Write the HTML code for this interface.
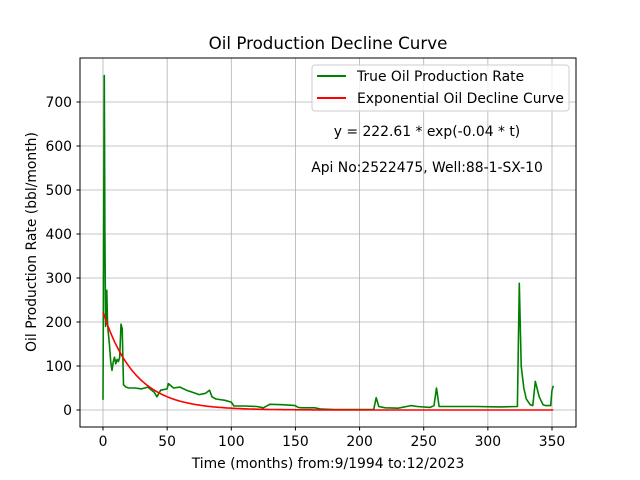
<!DOCTYPE html>
<html><head><meta charset="utf-8"><style>
html,body{margin:0;padding:0;background:#fff;}
svg{display:block;font-family:"DejaVu Sans","Liberation Sans",sans-serif;}
</style></head><body>
<svg id="chart" width="640" height="480" viewBox="0 0 640 480" xmlns="http://www.w3.org/2000/svg">
<rect width="640" height="480" fill="#fff"/>
<g id="grid"></g>
<g id="ticks"></g>
<g id="series"></g>
<rect x="80" y="58" width="496" height="369" fill="none" stroke="#000" stroke-width="1"/>
<text x="328" y="49" font-size="16.7" text-anchor="middle">Oil Production Decline Curve</text>
<text x="328" y="468" font-size="13.9" text-anchor="middle">Time (months) from:9/1994 to:12/2023</text>
<text transform="translate(36,242) rotate(-90)" font-size="13.9" text-anchor="middle">Oil Production Rate (bbl/month)</text>
<g>
<rect x="312" y="65" width="257" height="46" rx="3" fill="#fff" fill-opacity="0.8" stroke="#ccc"/>
<line x1="317" y1="76" x2="346" y2="76" stroke="green" stroke-width="2"/>
<text x="357" y="81" font-size="13.9">True Oil Production Rate</text>
<line x1="317" y1="98" x2="346" y2="98" stroke="red" stroke-width="2"/>
<text x="357" y="103" font-size="13.9">Exponential Oil Decline Curve</text>
</g>
<text x="427" y="136" font-size="13.9" text-anchor="middle">y = 222.61 * exp(-0.04 * t)</text>
<text x="427" y="172" font-size="13.9" text-anchor="middle">Api No:2522475, Well:88-1-SX-10</text>
</svg>
<script>
const months = [0,1,1.5,2,3,3.5,4,5,6,7,8,9,10,11,12,13,14,15,16,18,20,25,30,35,38,40,42,45,50,51,55,60,65,70,75,80,83,85,88,95,100,102,110,120,125,130,140,150,152,155,165,170,180,200,211,213,215,220,230,240,245,255,258,260,262,270,290,310,323,324.5,326,328,330,333,335,337,340,343,345,349,350,351];
const rates  = [23,760,400,190,272,200,180,150,110,90,110,120,105,115,110,120,195,185,57,52,50,50,48,52,45,40,30,45,48,60,50,52,45,40,35,38,45,30,25,22,18,9,9,8,5,13,12,10,6,5,5,2,1,1,1,28,8,5,4,10,8,6,10,50,8,8,8,7,8,288,100,50,25,12,10,65,30,12,10,10,45,55];
const decayA = 222.61, decayK = 0.04;
const xTicks = [0,50,100,150,200,250,300,350];
const yTicks = [0,100,200,300,400,500,600,700];
const X = t => 103 + t * (449 / 350);
const Y = v => 410 - v * 0.44;
const NS = "http://www.w3.org/2000/svg";
const grid = document.getElementById('grid'), ticks = document.getElementById('ticks'), series = document.getElementById('series');
function mk(tag, attrs, parent){const e=document.createElementNS(NS,tag);for(const k in attrs)e.setAttribute(k,attrs[k]);parent.appendChild(e);return e;}
xTicks.forEach(t=>{
  const g=mk('line',{x1:X(t),x2:X(t),y1:58,y2:427,stroke:'#b0b0b0','stroke-width':0.8},grid);
  
  
  mk('line',{x1:X(t),x2:X(t),y1:427,y2:430.5,stroke:'#000'},ticks);
  const l=mk('text',{x:X(t),y:446,'font-size':13.9,'text-anchor':'middle'},ticks);
  l.textContent=t;
  
  
});
yTicks.forEach(v=>{
  const g=mk('line',{x1:80,x2:576,y1:Y(v),y2:Y(v),stroke:'#b0b0b0','stroke-width':0.8},grid);
  
  
  mk('line',{x1:76.5,x2:80,y1:Y(v),y2:Y(v),stroke:'#000'},ticks);
  const l=mk('text',{x:72,y:Y(v)+5,'font-size':13.9,'text-anchor':'end'},ticks);
  l.textContent=v;
  
  
});
const pts = months.map((t,i)=>X(t).toFixed(1)+','+Y(rates[i]).toFixed(1)).join(' ');
const gl = mk('polyline',{points:pts,fill:'none',stroke:'green','stroke-width':1.6,'stroke-linejoin':'round'},series);


let rp=[];
for(let t=0;t<=351;t++){rp.push(X(t).toFixed(1)+','+Y(decayA*Math.exp(-decayK*t)).toFixed(1));}
const rl = mk('polyline',{points:rp.join(' '),fill:'none',stroke:'red','stroke-width':1.6},series);


</script>
</body></html>
